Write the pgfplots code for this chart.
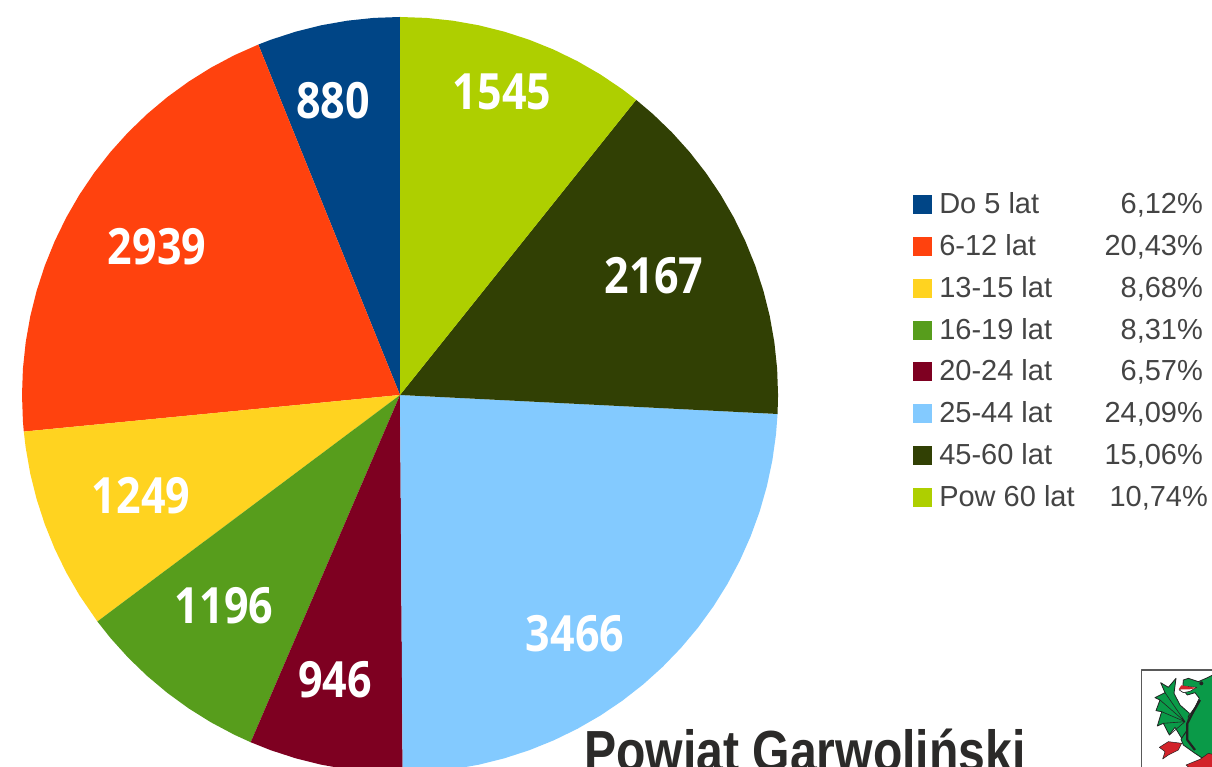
\documentclass[border=0pt]{standalone}
\usepackage{fontspec}
\setmainfont{Liberation Sans}
\newfontfamily\lblfont[FakeStretch=0.86]{Open Sans}
\newfontfamily\ttlfont[FakeStretch=0.83]{Liberation Sans}
\usepackage{pgfplots}
\pgfplotsset{compat=1.18}
\definecolor{c1}{HTML}{004586}
\definecolor{c2}{HTML}{FF420E}
\definecolor{c3}{HTML}{FFD320}
\definecolor{c4}{HTML}{579D1C}
\definecolor{c5}{HTML}{7E0021}
\definecolor{c6}{HTML}{83CAFF}
\definecolor{c7}{HTML}{314004}
\definecolor{c8}{HTML}{AECF00}
\definecolor{lg}{HTML}{444444}
\definecolor{ttl}{HTML}{2B2A29}
\definecolor{drg}{HTML}{0A9A48}
\definecolor{drk}{HTML}{222222}
\definecolor{rd}{HTML}{D2232A}
\newcommand\pl[2]{\node[text=white,font=\lblfont\bfseries\fontsize{50}{56}\selectfont,inner sep=0pt] at (axis cs:#1) {#2};}
\newcommand\lt[2]{\node[text=lg,anchor=base west,font=\fontsize{29}{32}\selectfont,inner sep=0pt] at (axis cs:#1) {#2};}
\newcommand\lp[2]{\node[text=lg,anchor=base east,font=\fontsize{29}{32}\selectfont,inner sep=0pt] at (axis cs:#1) {#2};}
\begin{document}
\begin{tikzpicture}[x=1pt,y=1pt]
\clip (0,0) rectangle (1212,767);
\begin{axis}[hide axis,scale only axis,width=1212pt,height=767pt,
  xmin=-400,xmax=812,ymin=-372,ymax=395,clip=false]
% values: 880 2939 1249 1196 946 3466 2167 1545, drawn anticlockwise from the top
\addplot[fill=c1,draw=none,mark=none,data cs=polar] coordinates {(90,0) (90,378) (94,378) (98,378) (102,378) (106,378) (110,378) (112.02,378)};
\addplot[fill=c2,draw=none,mark=none,data cs=polar] coordinates {(90,0) (112.02,378) (116,378) (120,378) (124,378) (128,378) (132,378) (136,378) (140,378) (144,378) (148,378) (152,378) (156,378) (160,378) (164,378) (168,378) (172,378) (176,378) (180,378) (184,378) (185.56,378)};
\addplot[fill=c3,draw=none,mark=none,data cs=polar] coordinates {(90,0) (185.56,378) (188,378) (192,378) (196,378) (200,378) (204,378) (208,378) (212,378) (216.81,378)};
\addplot[fill=c4,draw=none,mark=none,data cs=polar] coordinates {(90,0) (216.81,378) (220,378) (224,378) (228,378) (232,378) (236,378) (240,378) (244,378) (246.73,378)};
\addplot[fill=c5,draw=none,mark=none,data cs=polar] coordinates {(90,0) (246.73,378) (250,378) (254,378) (258,378) (262,378) (266,378) (270.4,378)};
\addplot[fill=c6,draw=none,mark=none,data cs=polar] coordinates {(90,0) (270.4,378) (274,378) (278,378) (282,378) (286,378) (290,378) (294,378) (298,378) (302,378) (306,378) (310,378) (314,378) (318,378) (322,378) (326,378) (330,378) (334,378) (338,378) (342,378) (346,378) (350,378) (354,378) (357.12,378)};
\addplot[fill=c7,draw=none,mark=none,data cs=polar] coordinates {(90,0) (357.12,378) (360,378) (364,378) (368,378) (372,378) (376,378) (380,378) (384,378) (388,378) (392,378) (396,378) (400,378) (404,378) (408,378) (411.34,378)};
\addplot[fill=c8,draw=none,mark=none,data cs=polar] coordinates {(90,0) (411.34,378) (414,378) (418,378) (422,378) (426,378) (430,378) (434,378) (438,378) (442,378) (446,378) (450,378)};
\pl{-67,294}{880}
\pl{102,303}{1545}
\pl{254,119}{2167}
\pl{-243,148}{2939}
\pl{-259,-101}{1249}
\pl{-176,-211}{1196}
\pl{-65,-285}{946}
\pl{175,-239}{3466}
% legend: x = 922-400, y = 395-row
\addplot[only marks,mark=square*,mark size=9pt,color=c1] coordinates {(522,191)};
\addplot[only marks,mark=square*,mark size=9pt,color=c2] coordinates {(522,149)};
\addplot[only marks,mark=square*,mark size=9pt,color=c3] coordinates {(522,107)};
\addplot[only marks,mark=square*,mark size=9pt,color=c4] coordinates {(522,65)};
\addplot[only marks,mark=square*,mark size=9pt,color=c5] coordinates {(522,24)};
\addplot[only marks,mark=square*,mark size=9pt,color=c6] coordinates {(522,-18)};
\addplot[only marks,mark=square*,mark size=9pt,color=c7] coordinates {(522,-60)};
\addplot[only marks,mark=square*,mark size=9pt,color=c8] coordinates {(522,-102)};
\lt{539,181}{Do 5 lat}    \lp{803,181}{6,12\%}
\lt{539,139}{6-12 lat}    \lp{803,139}{20,43\%}
\lt{539,97}{13-15 lat}    \lp{803,97}{8,68\%}
\lt{539,55}{16-19 lat}    \lp{803,55}{8,31\%}
\lt{539,14}{20-24 lat}    \lp{803,14}{6,57\%}
\lt{539,-28}{25-44 lat}   \lp{803,-28}{24,09\%}
\lt{539,-70}{45-60 lat}   \lp{803,-70}{15,06\%}
\lt{539,-112}{Pow 60 lat} \lp{808,-112}{10,74\%}
\node[text=ttl,anchor=base west,inner sep=0pt,font=\ttlfont\bfseries\fontsize{58}{60}\selectfont] at (axis cs:184,-377) {Powiat Garwoliński};
\end{axis}
% coat of arms, in coordinates of a 3x crop at (1100,650)
\begin{scope}[shift={(1100,117)},x=0.3333pt,y=-0.3333pt,line join=round]
\fill[white] (125,60) rectangle (340,355);
\draw[color=black!65,line width=1.6pt] (125,352) -- (125,60) -- (340,60);
\draw[fill=drg,draw=drk,line width=0.8pt] (182,98) -- (205,112) -- (228,85) -- (222,130) -- (240,165) -- (268,190) -- (262,240) -- (245,265) -- (225,232) -- (208,255) -- (190,220) -- (172,228) -- (185,185) -- (168,182) -- (180,150) -- (165,143) -- (195,128) -- cycle;
\draw[color=drk,line width=0.6pt] (255,215) -- (180,150) (255,215) -- (185,185) (255,215) -- (190,220) (255,215) -- (208,255) (255,215) -- (195,128);
\draw[fill=drg,draw=drk,line width=0.8pt] (250,90) -- (265,85) -- (295,95) -- (318,85) -- (345,72) -- (345,350) -- (285,310) -- (250,285) -- (243,268) -- (262,240) -- (265,200) -- (285,172) -- (298,145) -- (285,128) -- (262,135) -- (248,118) -- cycle;
\draw[fill=white,draw=drk,line width=0.6pt] (238,120) -- (250,108) -- (290,112) -- (270,124) -- (250,128) -- cycle;
\fill[rd] (236,118) -- (244,106) -- (290,114) -- (268,118) -- cycle;
\fill[drk] (304,100) circle (6);
\draw[color=drk,line width=2.2pt] (300,150) -- (280,185) -- (262,220) -- (262,270) -- (285,300);
\draw[fill=rd,draw=drk,line width=0.5pt] (178,292) -- (205,275) -- (245,280) -- (235,300) -- (205,315) -- (188,327) -- (195,305) -- cycle;
\draw[fill=rd,draw=drk,line width=0.5pt] (258,345) -- (300,328) -- (325,310) -- (345,315) -- (345,355) -- (270,355) -- cycle;
\end{scope}
\end{tikzpicture}
\end{document}
